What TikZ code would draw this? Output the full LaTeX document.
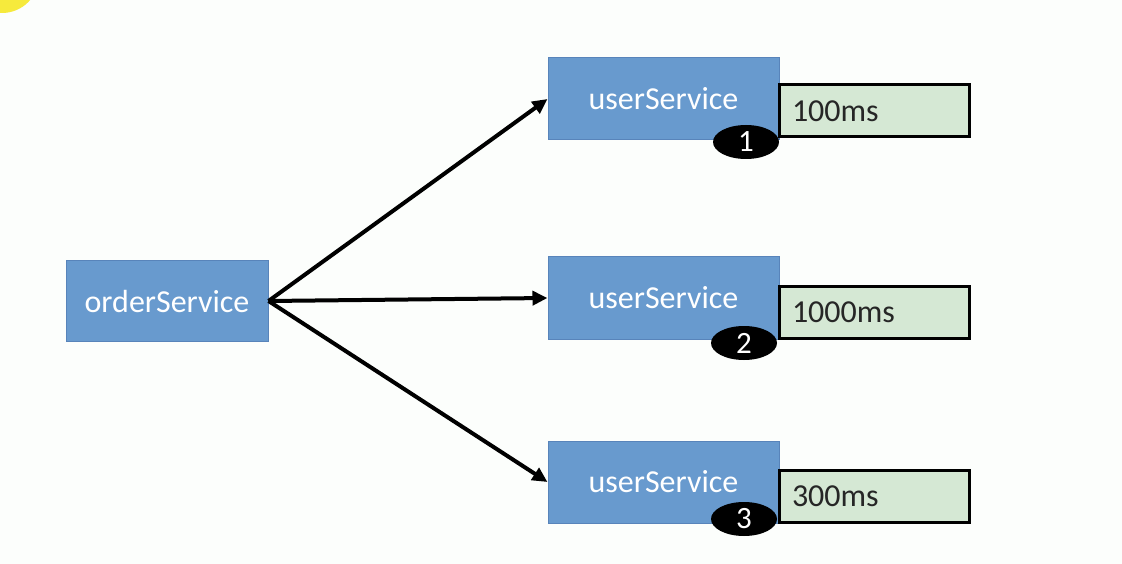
\documentclass[tikz,border=0pt]{standalone}
\usepackage{fontspec}
\setmainfont{Carlito}
\usetikzlibrary{arrows.meta,shapes.geometric}
\definecolor{bg}{RGB}{252,254,252}
\definecolor{svcblue}{RGB}{104,154,206}
\definecolor{svcedge}{RGB}{88,132,186}
\definecolor{timegreen}{RGB}{213,232,212}
\definecolor{sun}{RGB}{246,234,60}
\begin{document}
\begin{tikzpicture}[x=1pt,y=-1pt,
  svc/.style={draw=svcedge, line width=1pt, fill=svcblue, text=white,
    minimum height=82pt, inner sep=0pt, font=\fontsize{32}{36}\selectfont},
  timebox/.style={draw=black, line width=3pt, fill=timegreen, text=black!85,
    minimum width=190pt, minimum height=52pt, inner xsep=12pt, inner ysep=0pt,
    text width=164pt, align=left, font=\fontsize{32}{36}\selectfont},
  badge/.style={ellipse, fill=black, text=white, minimum width=66pt,
    minimum height=34pt, inner sep=0pt, font=\fontsize{31}{34}\selectfont},
  call/.style={line width=4pt, -{Triangle[length=15pt,width=14pt]}}]
\fill[bg] (0,0) rectangle (1122,564);
\useasboundingbox (0,0) rectangle (1122,564);
\fill[sun] (2,-24) circle (37);
\node[svc, minimum width=202pt, minimum height=80pt] (order) at (167,301) {orderService};
\node[svc, minimum width=231pt] (u1) at (663.5,99) {userService};
\node[svc, minimum width=231pt] (u2) at (663.5,298) {userService};
\node[svc, minimum width=231pt] (u3) at (663.5,482) {userService};
\node[timebox] (t1) at (874,111) {\raisebox{-2pt}{100ms}};
\node[timebox] (t2) at (874,312) {\raisebox{-2pt}{1000ms}};
\node[timebox] (t3) at (874,496) {\raisebox{-2pt}{300ms}};
\node[badge] (b1) at (746,142) {1};
\node[badge] (b2) at (744,343) {2};
\node[badge] (b3) at (744,519) {3};
\draw[call] (order.east) -- (u1.west);
\draw[call] (order.east) -- (u2.west);
\draw[call] (order.east) -- (u3.west);
\end{tikzpicture}
\end{document}
